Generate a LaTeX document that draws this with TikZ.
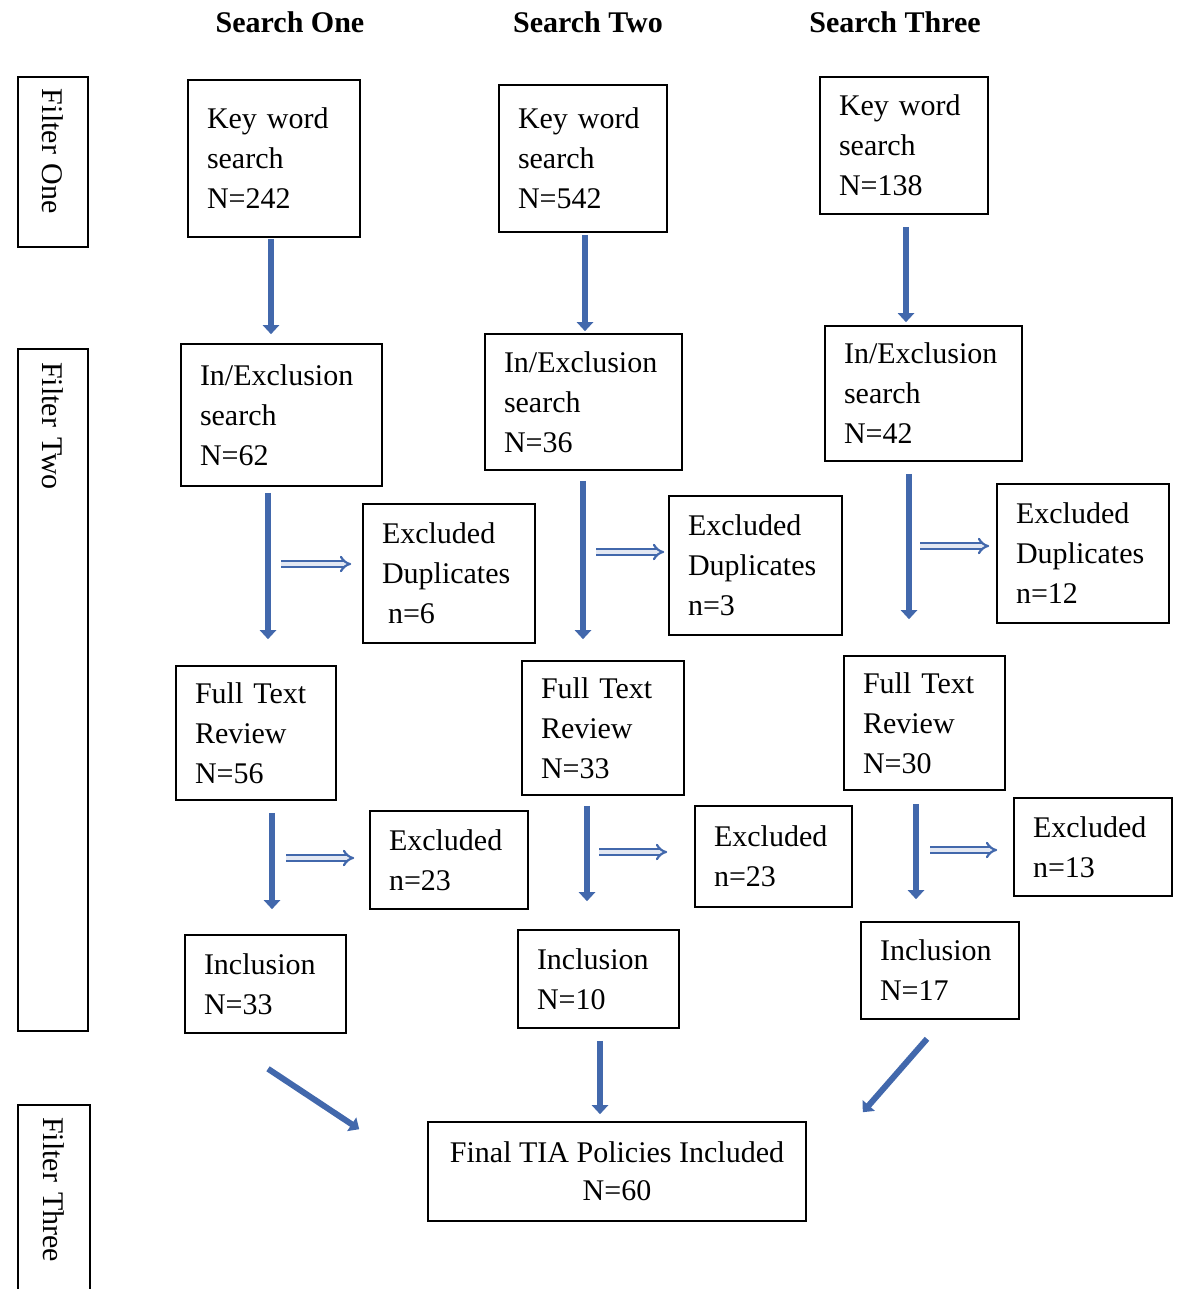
\documentclass[tikz,border=0pt]{standalone}
\usepackage{fontspec}
\setmainfont{Liberation Serif}
\usepackage{xcolor}
\usepackage{tikz}
\usetikzlibrary{arrows.meta, calc}
\definecolor{flowblue}{RGB}{66,104,172}
\tikzset{
    stage/.style={rectangle, draw=black, line width=1.6pt, align=left, inner xsep=19pt, inner ysep=0pt, font=\fontsize{30}{40}\selectfont},
    final/.style={rectangle, draw=black, line width=1.6pt, align=center, font=\fontsize{30}{38}\selectfont},
    filter/.style={rectangle, draw=black, line width=1.6pt, rotate=-90, align=left, inner xsep=12pt, font=\fontsize{30}{36}\selectfont},
    heading/.style={font=\bfseries\fontsize{30}{36}\selectfont},
    arrow/.style={line width=6pt, draw=flowblue, -{Triangle[width=16pt,length=9pt]}},
    hollow/.style={draw=flowblue, line width=2.2pt, double=flowblue!15, double distance=3.2pt, -{Implies[length=7pt]}}
}

\begin{document}
\begin{tikzpicture}[x=1pt, y=-1pt]
    \useasboundingbox (0,0) rectangle (1176,1289);

    \node (h1) [heading] at (290,22) {Search One};
    \node (h2) [heading] at (588,22) {Search Two};
    \node (h3) [heading] at (895,22) {Search Three};

    \node (f1) [filter, minimum width=170pt, minimum height=70pt, text width=146pt] at (53,162) {Filter One};
    \node (f2) [filter, minimum width=682pt, minimum height=70pt, text width=656pt] at (53,690) {Filter Two};
    \node (f3) [filter, minimum width=195pt, minimum height=72pt, text width=171pt] at (54,1202.5) {Filter Three};

    \node (k1) [stage, minimum width=172pt, minimum height=157pt, text width=134pt] at (274,158.5) {Key word\\search\\N=242};
    \node (i1) [stage, minimum width=201pt, minimum height=142pt, text width=163pt] at (281.5,415) {In/Exclusion\\search\\N=62};
    \node (e1) [stage, minimum width=172pt, minimum height=139pt, text width=134pt] at (449,573.5) {Excluded\\Duplicates\\\hspace*{6pt}n=6};
    \node (r1) [stage, minimum width=160pt, minimum height=134pt, text width=122pt] at (256,733) {Full Text\\Review\\N=56};
    \node (x1) [stage, minimum width=158pt, minimum height=98pt, text width=120pt] at (449,860) {Excluded\\n=23};
    \node (c1) [stage, minimum width=161pt, minimum height=98pt, text width=123pt] at (265.5,984) {Inclusion\\N=33};

    \node (k2) [stage, minimum width=168pt, minimum height=147pt, text width=130pt] at (583,158.5) {Key word\\search\\N=542};
    \node (i2) [stage, minimum width=197pt, minimum height=136pt, text width=159pt] at (583.5,402) {In/Exclusion\\search\\N=36};
    \node (e2) [stage, minimum width=173pt, minimum height=139pt, text width=135pt] at (755.5,565.5) {Excluded\\Duplicates\\n=3};
    \node (r2) [stage, minimum width=162pt, minimum height=134pt, text width=124pt] at (603,728) {Full Text\\Review\\N=33};
    \node (x2) [stage, minimum width=157pt, minimum height=101pt, text width=119pt] at (773.5,856.5) {Excluded\\n=23};
    \node (c2) [stage, minimum width=161pt, minimum height=98pt, text width=123pt] at (598.5,979) {Inclusion\\N=10};

    \node (k3) [stage, minimum width=168pt, minimum height=137pt, text width=130pt] at (904,145.5) {Key word\\search\\N=138};
    \node (i3) [stage, minimum width=197pt, minimum height=135pt, text width=159pt] at (923.5,393.5) {In/Exclusion\\search\\N=42};
    \node (e3) [stage, minimum width=172pt, minimum height=139pt, text width=134pt] at (1083,553.5) {Excluded\\Duplicates\\n=12};
    \node (r3) [stage, minimum width=161pt, minimum height=134pt, text width=123pt] at (924.5,723) {Full Text\\Review\\N=30};
    \node (x3) [stage, minimum width=158pt, minimum height=98pt, text width=120pt] at (1093,847) {Excluded\\n=13};
    \node (c3) [stage, minimum width=158pt, minimum height=97pt, text width=120pt] at (940,970.5) {Inclusion\\N=17};

    \node (fin) [final, minimum width=378pt, minimum height=99pt] at (617,1171.5) {Final TIA Policies Included\\N=60};

    \draw [arrow] ($(k1.south)+(-3,1)$) -- ($(i1.north)+(-10.5,-9)$);
    \draw [arrow] ($(i1.south)+(-13.5,6)$) -- ($(r1.north)+(12,-26)$);
    \draw [arrow] ($(r1.south)+(16,12)$) -- ($(c1.north)+(6.5,-25)$);
    \draw [hollow] ($(e1.west)+(-81,-9.5)$) -- ($(e1.west)+(-11,-9.5)$);
    \draw [hollow] ($(x1.west)+(-83,-2)$) -- ($(x1.west)+(-15,-2)$);

    \draw [arrow] ($(k2.south)+(2,2)$) -- ($(i2.north)+(1.5,-2)$);
    \draw [arrow] ($(i2.south)+(-0.5,10)$) -- ($(r2.north)+(-20,-21)$);
    \draw [arrow] ($(r2.south)+(-16,10)$) -- ($(c2.north)+(-11.5,-28)$);
    \draw [hollow] ($(e2.west)+(-72,-13.5)$) -- ($(e2.west)+(-4,-13.5)$);
    \draw [hollow] ($(x2.west)+(-95,-4.5)$) -- ($(x2.west)+(-27,-4.5)$);

    \draw [arrow] ($(k3.south)+(2,12)$) -- ($(i3.north)+(-17.5,-3)$);
    \draw [arrow] ($(i3.south)+(-14.5,12)$) -- ($(r3.north)+(-15.5,-36)$);
    \draw [arrow] ($(r3.south)+(-8.5,13)$) -- ($(c3.north)+(-24,-22)$);
    \draw [hollow] ($(e3.west)+(-76,-7.5)$) -- ($(e3.west)+(-7,-7.5)$);
    \draw [hollow] ($(x3.west)+(-83,3)$) -- ($(x3.west)+(-16,3)$);

    \draw [arrow] ($(c1.south)+(2.5,35)$) -- ($(fin.north west)+(-68,8)$);
    \draw [arrow] ($(c2.south)+(1.5,12)$) -- ($(fin.north)+(-17,-7)$);
    \draw [arrow] ($(c3.south)+(-13,19)$) -- ($(fin.north east)+(56,-9)$);
\end{tikzpicture}
\end{document}
